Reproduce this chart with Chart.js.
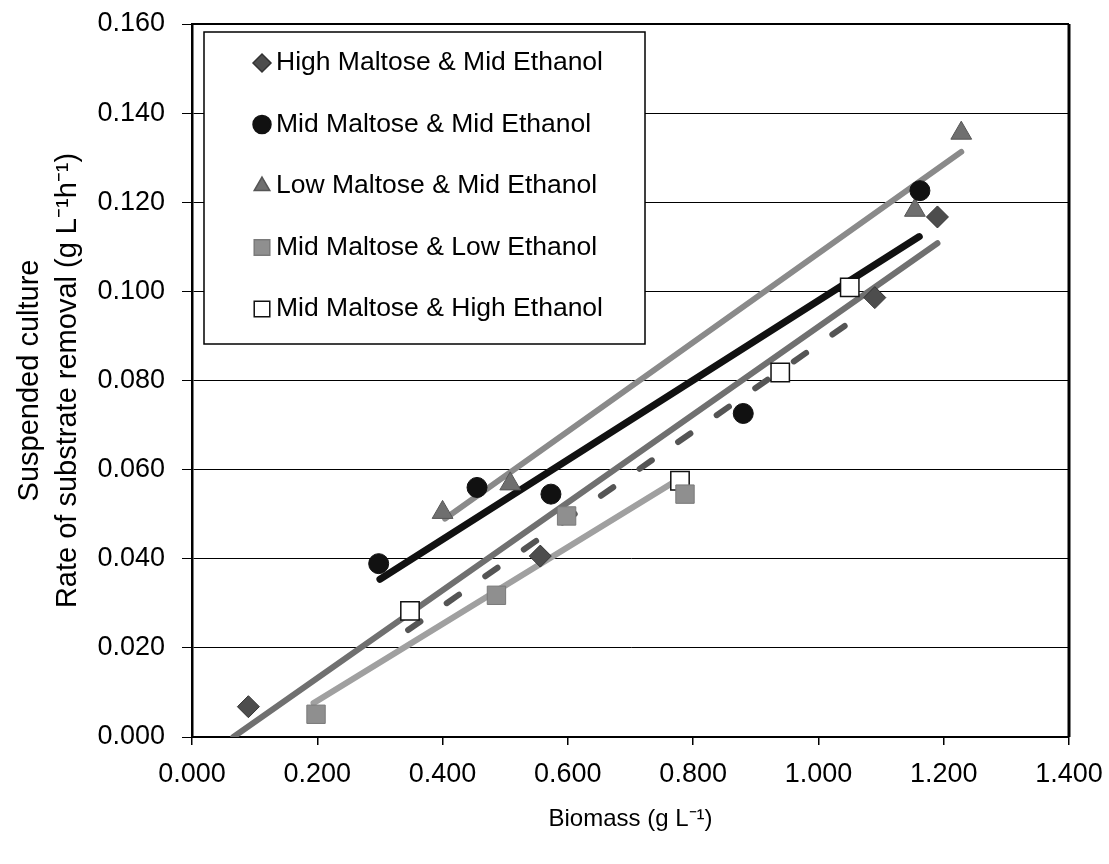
<!DOCTYPE html>
<html>
<head>
<meta charset="utf-8">
<title>Suspended culture - rate of substrate removal</title>
<script src="https://cdn.jsdelivr.net/npm/chart.js@4.4.1/dist/chart.umd.min.js"></script>
<style>
  html, body { margin: 0; padding: 0; background: #fff; }
  #wrap { width: 1109px; height: 864px; }
</style>
</head>
<body>
<div id="wrap"><canvas id="rateChart"></canvas></div>
<script>
// series names (legend order)
const seriesNames = [
  'High Maltose & Mid Ethanol',
  'Mid Maltose & Mid Ethanol',
  'Low Maltose & Mid Ethanol',
  'Mid Maltose & Low Ethanol',
  'Mid Maltose & High Ethanol'
];

// measured points, biomass (g/L) vs rate (g/L/h)
const highMalMidEthX = [0.090, 0.556, 1.090, 1.190];
const highMalMidEthY = [0.0068, 0.0406, 0.0986, 0.1167];
const midMalMidEthX = [0.298, 0.455, 0.573, 0.880, 1.162];
const midMalMidEthY = [0.0389, 0.0560, 0.0545, 0.0726, 0.1226];
const lowMalMidEthX = [0.400, 0.508, 1.154, 1.228];
const lowMalMidEthY = [0.0504, 0.0568, 0.1182, 0.1355];
const midMalLowEthX = [0.198, 0.486, 0.598, 0.787];
const midMalLowEthY = [0.0051, 0.0318, 0.0496, 0.0545];
const midMalHighEthX = [0.348, 0.779, 0.939, 1.050];
const midMalHighEthY = [0.0283, 0.0575, 0.0818, 0.1009];

// trend line end points
const highMalMidEthFitX = [0.066, 1.190];
const highMalMidEthFitY = [0.0000, 0.1108];
const midMalMidEthFitX = [0.300, 1.161];
const midMalMidEthFitY = [0.0354, 0.1123];
const lowMalMidEthFitX = [0.404, 1.228];
const lowMalMidEthFitY = [0.0490, 0.1313];
const midMalLowEthFitX = [0.194, 0.790];
const midMalLowEthFitY = [0.0076, 0.0590];
const midMalHighEthFitX = [0.345, 1.060];
const midMalHighEthFitY = [0.0240, 0.0940];

// axis ticks
const xTicks = [0, 0.2, 0.4, 0.6, 0.8, 1.0, 1.2, 1.4];
const yTicks = [0, 0.02, 0.04, 0.06, 0.08, 0.10, 0.12, 0.14, 0.16];

const pts = (xs, ys) => xs.map((x, i) => ({ x: x, y: ys[i] }));

const FONT = '"Liberation Sans", Arial, sans-serif';

function scatterSet(label, xs, ys, style, radius, fill, border, bw) {
  return {
    type: 'scatter',
    label: label,
    data: pts(xs, ys),
    pointStyle: style,
    pointRadius: radius,
    pointBackgroundColor: fill,
    pointBorderColor: border,
    pointBorderWidth: bw,
    showLine: false,
    order: 0
  };
}

function fitSet(xs, ys, color, width, dash) {
  return {
    type: 'line',
    label: '',
    isFit: true,
    data: pts(xs, ys),
    borderColor: color,
    borderWidth: width,
    borderDash: dash || [],
    borderCapStyle: 'round',
    pointRadius: 0,
    tension: 0,
    fill: false,
    order: 1
  };
}

const datasets = [
  scatterSet(seriesNames[0], highMalMidEthX, highMalMidEthY, 'rectRot', 11, '#4d4d4d', '#333', 1),
  scatterSet(seriesNames[1], midMalMidEthX, midMalMidEthY, 'circle', 10, '#111', '#111', 1),
  scatterSet(seriesNames[2], lowMalMidEthX, lowMalMidEthY, 'triangle', 12, '#6f6f6f', '#555', 1),
  scatterSet(seriesNames[3], midMalLowEthX, midMalLowEthY, 'rect', 13, '#8f8f8f', '#7a7a7a', 1),
  scatterSet(seriesNames[4], midMalHighEthX, midMalHighEthY, 'rect', 13, '#fff', '#111', 1.5),
  fitSet(highMalMidEthFitX, highMalMidEthFitY, '#707070', 6),
  fitSet(midMalMidEthFitX, midMalMidEthFitY, '#111', 7),
  fitSet(lowMalMidEthFitX, lowMalMidEthFitY, '#8a8a8a', 6),
  fitSet(midMalLowEthFitX, midMalLowEthFitY, '#a0a0a0', 6),
  fitSet(midMalHighEthFitX, midMalHighEthFitY, '#555', 6, [15, 32])
];

// boxed legend inside the plot, upper left
const boxLegend = {
  id: 'boxLegend',
  afterDraw(chart) {
    const { ctx, chartArea } = chart;
    const left = chartArea.left + 12, top = chartArea.top + 8;
    const w = 441, h = 312, rowGap = 61.5;
    ctx.save();
    ctx.fillStyle = '#fff';
    ctx.fillRect(left, top, w, h);
    ctx.strokeStyle = '#000';
    ctx.lineWidth = 1.5;
    ctx.strokeRect(left, top, w, h);
    ctx.font = '26.5px ' + FONT;
    ctx.textBaseline = 'middle';
    chart.data.datasets.filter(d => !d.isFit).forEach((d, i) => {
      const y = top + 31 + i * rowGap;
      ctx.fillStyle = d.pointBackgroundColor;
      ctx.strokeStyle = d.pointBorderColor;
      Chart.helpers.drawPoint(ctx, {
        pointStyle: d.pointStyle,
        radius: d.pointStyle === 'rect' ? 11 : 9,
        borderWidth: d.pointBorderWidth,
        rotation: 0
      }, left + 58, y);
      ctx.fillStyle = '#000';
      ctx.fillText(d.label, left + 72, y);
    });
    ctx.restore();
  }
};

// closing frame on top and right of the plot
const plotFrame = {
  id: 'plotFrame',
  afterDraw(chart) {
    const { ctx, chartArea: a } = chart;
    ctx.save();
    ctx.strokeStyle = '#000';
    ctx.lineWidth = 2;
    ctx.beginPath();
    ctx.moveTo(a.left, a.top);
    ctx.lineTo(a.right, a.top);
    ctx.stroke();
    ctx.lineWidth = 3;
    ctx.beginPath();
    ctx.moveTo(a.right, a.top);
    ctx.lineTo(a.right, a.bottom);
    ctx.stroke();
    ctx.restore();
  }
};

new Chart(document.getElementById('rateChart'), {
  type: 'scatter',
  data: { datasets: datasets },
  options: {
    responsive: true,
    maintainAspectRatio: false,
    animation: false,
    layout: { padding: { top: 24, right: 40, left: 0, bottom: 0 } },
    plugins: {
      legend: { display: false },
      tooltip: { enabled: false }
    },
    scales: {
      x: {
        type: 'linear',
        min: 0,
        max: 1.4,
        afterBuildTicks: s => { s.ticks = xTicks.map(v => ({ value: v })); },
        afterFit: s => { s.height = 127; s.paddingLeft = 0; s.paddingRight = 0; },
        ticks: {
          callback: v => Number(v).toFixed(3),
          color: '#000',
          font: { family: FONT, size: 27 },
          padding: 13,
          maxRotation: 0
        },
        grid: { drawOnChartArea: false, color: '#000', lineWidth: 1.5, tickLength: 8 },
        border: { color: '#000', width: 2 },
        title: {
          display: true,
          text: 'Biomass (g L\u207B\u00B9)',
          color: '#000',
          font: { family: FONT, size: 24 },
          padding: { top: 0, bottom: 30 }
        }
      },
      y: {
        min: 0,
        max: 0.16,
        afterBuildTicks: s => { s.ticks = yTicks.map(v => ({ value: v })); },
        afterFit: s => { s.width = 192; s.paddingTop = 0; s.paddingBottom = 0; },
        ticks: {
          callback: v => Number(v).toFixed(3),
          color: '#000',
          font: { family: FONT, size: 27 },
          padding: 17
        },
        grid: { color: '#000', lineWidth: 1, tickLength: 10 },
        border: { color: '#000', width: 2.5 },
        title: {
          display: true,
          text: ['Suspended culture', 'Rate of substrate removal (g L\u207B\u00B9h\u207B\u00B9)'],
          color: '#000',
          font: { family: FONT, size: 29, lineHeight: 1.3 },
          padding: { top: 11, bottom: 0 }
        }
      }
    }
  },
  plugins: [boxLegend, plotFrame]
});
</script>
</body>
</html>
